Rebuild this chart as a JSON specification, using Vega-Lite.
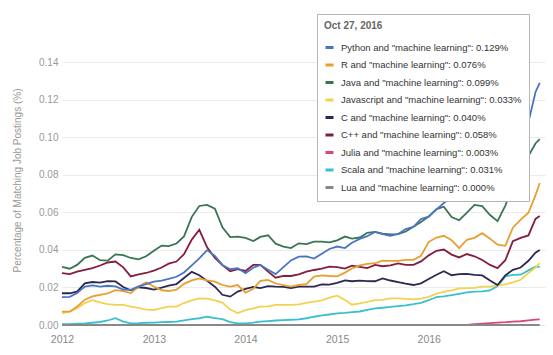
{
"$schema": "https://vega.github.io/schema/vega-lite/v6.json",
"width": 483, "height": 291,
"autosize": {"type": "none"},
"padding": {"left": 62, "top": 34, "right": 8, "bottom": 30},
"background": "white",
"config": {"view": {"stroke": null}, "font": "Liberation Sans"},
"data": {"values": [
{"d":"2012-01","s":"Julia","v":0},{"d":"2012-02","s":"Julia","v":0},{"d":"2012-03","s":"Julia","v":0},{"d":"2012-04","s":"Julia","v":0},{"d":"2012-05","s":"Julia","v":0},{"d":"2012-06","s":"Julia","v":0},{"d":"2012-07","s":"Julia","v":0},{"d":"2012-08","s":"Julia","v":0},{"d":"2012-09","s":"Julia","v":0},{"d":"2012-10","s":"Julia","v":0},{"d":"2012-11","s":"Julia","v":0},{"d":"2012-12","s":"Julia","v":0},
{"d":"2013-01","s":"Julia","v":0},{"d":"2013-02","s":"Julia","v":0},{"d":"2013-03","s":"Julia","v":0},{"d":"2013-04","s":"Julia","v":0},{"d":"2013-05","s":"Julia","v":0},{"d":"2013-06","s":"Julia","v":0},{"d":"2013-07","s":"Julia","v":0},{"d":"2013-08","s":"Julia","v":0},{"d":"2013-09","s":"Julia","v":0},{"d":"2013-10","s":"Julia","v":0},{"d":"2013-11","s":"Julia","v":0},{"d":"2013-12","s":"Julia","v":0},
{"d":"2014-01","s":"Julia","v":0},{"d":"2014-02","s":"Julia","v":0},{"d":"2014-03","s":"Julia","v":0},{"d":"2014-04","s":"Julia","v":0},{"d":"2014-05","s":"Julia","v":0},{"d":"2014-06","s":"Julia","v":0},{"d":"2014-07","s":"Julia","v":0},{"d":"2014-08","s":"Julia","v":0},{"d":"2014-09","s":"Julia","v":0},{"d":"2014-10","s":"Julia","v":0},{"d":"2014-11","s":"Julia","v":0},{"d":"2014-12","s":"Julia","v":0},
{"d":"2015-01","s":"Julia","v":0},{"d":"2015-02","s":"Julia","v":0},{"d":"2015-03","s":"Julia","v":0},{"d":"2015-04","s":"Julia","v":0},{"d":"2015-05","s":"Julia","v":0},{"d":"2015-06","s":"Julia","v":0},{"d":"2015-07","s":"Julia","v":0},{"d":"2015-08","s":"Julia","v":0},{"d":"2015-09","s":"Julia","v":0},{"d":"2015-10","s":"Julia","v":0},{"d":"2015-11","s":"Julia","v":0},{"d":"2015-12","s":"Julia","v":0},
{"d":"2016-01","s":"Julia","v":0},{"d":"2016-02","s":"Julia","v":0},{"d":"2016-03","s":"Julia","v":0},{"d":"2016-04","s":"Julia","v":0},{"d":"2016-05","s":"Julia","v":0},{"d":"2016-06","s":"Julia","v":0},{"d":"2016-07","s":"Julia","v":0.0004},{"d":"2016-08","s":"Julia","v":0.0007},{"d":"2016-09","s":"Julia","v":0.001},{"d":"2016-10","s":"Julia","v":0.0013},{"d":"2016-11","s":"Julia","v":0.0015},{"d":"2016-12","s":"Julia","v":0.0018},
{"d":"2017-01","s":"Julia","v":0.002},{"d":"2017-02","s":"Julia","v":0.0025},{"d":"2017-03","s":"Julia","v":0.0029},{"d":"2017-03-18","s":"Julia","v":0.003},

{"d":"2012-01","s":"Scala","v":0.0004},{"d":"2012-02","s":"Scala","v":0.0005},{"d":"2012-03","s":"Scala","v":0.0007},{"d":"2012-04","s":"Scala","v":0.0009},{"d":"2012-05","s":"Scala","v":0.0012},{"d":"2012-06","s":"Scala","v":0.0016},{"d":"2012-07","s":"Scala","v":0.0024},{"d":"2012-08","s":"Scala","v":0.0036},{"d":"2012-09","s":"Scala","v":0.0018},{"d":"2012-10","s":"Scala","v":0.0009},{"d":"2012-11","s":"Scala","v":0.001},{"d":"2012-12","s":"Scala","v":0.0012},
{"d":"2013-01","s":"Scala","v":0.0013},{"d":"2013-02","s":"Scala","v":0.0015},{"d":"2013-03","s":"Scala","v":0.0016},{"d":"2013-04","s":"Scala","v":0.0018},{"d":"2013-05","s":"Scala","v":0.0025},{"d":"2013-06","s":"Scala","v":0.0031},{"d":"2013-07","s":"Scala","v":0.0036},{"d":"2013-08","s":"Scala","v":0.0044},{"d":"2013-09","s":"Scala","v":0.0037},{"d":"2013-10","s":"Scala","v":0.0031},{"d":"2013-11","s":"Scala","v":0.0015},{"d":"2013-12","s":"Scala","v":0.0009},
{"d":"2014-01","s":"Scala","v":0.0009},{"d":"2014-02","s":"Scala","v":0.0013},{"d":"2014-03","s":"Scala","v":0.0018},{"d":"2014-04","s":"Scala","v":0.0021},{"d":"2014-05","s":"Scala","v":0.0024},{"d":"2014-06","s":"Scala","v":0.0026},{"d":"2014-07","s":"Scala","v":0.0028},{"d":"2014-08","s":"Scala","v":0.003},{"d":"2014-09","s":"Scala","v":0.0036},{"d":"2014-10","s":"Scala","v":0.0044},{"d":"2014-11","s":"Scala","v":0.0051},{"d":"2014-12","s":"Scala","v":0.0056},
{"d":"2015-01","s":"Scala","v":0.0062},{"d":"2015-02","s":"Scala","v":0.0065},{"d":"2015-03","s":"Scala","v":0.0069},{"d":"2015-04","s":"Scala","v":0.0072},{"d":"2015-05","s":"Scala","v":0.008},{"d":"2015-06","s":"Scala","v":0.0089},{"d":"2015-07","s":"Scala","v":0.0092},{"d":"2015-08","s":"Scala","v":0.0096},{"d":"2015-09","s":"Scala","v":0.0101},{"d":"2015-10","s":"Scala","v":0.0105},{"d":"2015-11","s":"Scala","v":0.0111},{"d":"2015-12","s":"Scala","v":0.0118},
{"d":"2016-01","s":"Scala","v":0.0132},{"d":"2016-02","s":"Scala","v":0.0149},{"d":"2016-03","s":"Scala","v":0.0153},{"d":"2016-04","s":"Scala","v":0.0159},{"d":"2016-05","s":"Scala","v":0.0166},{"d":"2016-06","s":"Scala","v":0.0174},{"d":"2016-07","s":"Scala","v":0.0178},{"d":"2016-08","s":"Scala","v":0.0179},{"d":"2016-09","s":"Scala","v":0.0184},{"d":"2016-10","s":"Scala","v":0.0208},{"d":"2016-11","s":"Scala","v":0.0259},{"d":"2016-12","s":"Scala","v":0.0267},
{"d":"2017-01","s":"Scala","v":0.0268},{"d":"2017-02","s":"Scala","v":0.0291},{"d":"2017-03","s":"Scala","v":0.0311},{"d":"2017-03-18","s":"Scala","v":0.031},

{"d":"2012-01","s":"Javascript","v":0.0062},{"d":"2012-02","s":"Javascript","v":0.0071},{"d":"2012-03","s":"Javascript","v":0.0089},{"d":"2012-04","s":"Javascript","v":0.0117},{"d":"2012-05","s":"Javascript","v":0.0132},{"d":"2012-06","s":"Javascript","v":0.012},{"d":"2012-07","s":"Javascript","v":0.0111},{"d":"2012-08","s":"Javascript","v":0.0107},{"d":"2012-09","s":"Javascript","v":0.0107},{"d":"2012-10","s":"Javascript","v":0.0098},{"d":"2012-11","s":"Javascript","v":0.0091},{"d":"2012-12","s":"Javascript","v":0.0082},
{"d":"2013-01","s":"Javascript","v":0.008},{"d":"2013-02","s":"Javascript","v":0.009},{"d":"2013-03","s":"Javascript","v":0.0098},{"d":"2013-04","s":"Javascript","v":0.0098},{"d":"2013-05","s":"Javascript","v":0.0117},{"d":"2013-06","s":"Javascript","v":0.0131},{"d":"2013-07","s":"Javascript","v":0.0142},{"d":"2013-08","s":"Javascript","v":0.0141},{"d":"2013-09","s":"Javascript","v":0.0131},{"d":"2013-10","s":"Javascript","v":0.0119},{"d":"2013-11","s":"Javascript","v":0.0082},{"d":"2013-12","s":"Javascript","v":0.0064},
{"d":"2014-01","s":"Javascript","v":0.0079},{"d":"2014-02","s":"Javascript","v":0.0088},{"d":"2014-03","s":"Javascript","v":0.0098},{"d":"2014-04","s":"Javascript","v":0.0099},{"d":"2014-05","s":"Javascript","v":0.0107},{"d":"2014-06","s":"Javascript","v":0.0107},{"d":"2014-07","s":"Javascript","v":0.0107},{"d":"2014-08","s":"Javascript","v":0.011},{"d":"2014-09","s":"Javascript","v":0.0118},{"d":"2014-10","s":"Javascript","v":0.0124},{"d":"2014-11","s":"Javascript","v":0.0131},{"d":"2014-12","s":"Javascript","v":0.0146},
{"d":"2015-01","s":"Javascript","v":0.0156},{"d":"2015-02","s":"Javascript","v":0.0133},{"d":"2015-03","s":"Javascript","v":0.0108},{"d":"2015-04","s":"Javascript","v":0.0115},{"d":"2015-05","s":"Javascript","v":0.0123},{"d":"2015-06","s":"Javascript","v":0.0132},{"d":"2015-07","s":"Javascript","v":0.0134},{"d":"2015-08","s":"Javascript","v":0.0142},{"d":"2015-09","s":"Javascript","v":0.0142},{"d":"2015-10","s":"Javascript","v":0.0139},{"d":"2015-11","s":"Javascript","v":0.0136},{"d":"2015-12","s":"Javascript","v":0.0141},
{"d":"2016-01","s":"Javascript","v":0.015},{"d":"2016-02","s":"Javascript","v":0.0167},{"d":"2016-03","s":"Javascript","v":0.0177},{"d":"2016-04","s":"Javascript","v":0.0185},{"d":"2016-05","s":"Javascript","v":0.0195},{"d":"2016-06","s":"Javascript","v":0.0196},{"d":"2016-07","s":"Javascript","v":0.0198},{"d":"2016-08","s":"Javascript","v":0.0204},{"d":"2016-09","s":"Javascript","v":0.0204},{"d":"2016-10","s":"Javascript","v":0.0211},{"d":"2016-11","s":"Javascript","v":0.0216},{"d":"2016-12","s":"Javascript","v":0.0227},
{"d":"2017-01","s":"Javascript","v":0.0241},{"d":"2017-02","s":"Javascript","v":0.0277},{"d":"2017-03","s":"Javascript","v":0.0306},{"d":"2017-03-18","s":"Javascript","v":0.033},

{"d":"2012-01","s":"C","v":0.0169},{"d":"2012-02","s":"C","v":0.0169},{"d":"2012-03","s":"C","v":0.0178},{"d":"2012-04","s":"C","v":0.0222},{"d":"2012-05","s":"C","v":0.0229},{"d":"2012-06","s":"C","v":0.0226},{"d":"2012-07","s":"C","v":0.0234},{"d":"2012-08","s":"C","v":0.0232},{"d":"2012-09","s":"C","v":0.0202},{"d":"2012-10","s":"C","v":0.0185},{"d":"2012-11","s":"C","v":0.0201},{"d":"2012-12","s":"C","v":0.0197},
{"d":"2013-01","s":"C","v":0.0189},{"d":"2013-02","s":"C","v":0.0199},{"d":"2013-03","s":"C","v":0.021},{"d":"2013-04","s":"C","v":0.0218},{"d":"2013-05","s":"C","v":0.025},{"d":"2013-06","s":"C","v":0.0283},{"d":"2013-07","s":"C","v":0.0265},{"d":"2013-08","s":"C","v":0.0235},{"d":"2013-09","s":"C","v":0.0204},{"d":"2013-10","s":"C","v":0.0161},{"d":"2013-11","s":"C","v":0.0151},{"d":"2013-12","s":"C","v":0.0178},
{"d":"2014-01","s":"C","v":0.0192},{"d":"2014-02","s":"C","v":0.0203},{"d":"2014-03","s":"C","v":0.0197},{"d":"2014-04","s":"C","v":0.0207},{"d":"2014-05","s":"C","v":0.0204},{"d":"2014-06","s":"C","v":0.0203},{"d":"2014-07","s":"C","v":0.0197},{"d":"2014-08","s":"C","v":0.0204},{"d":"2014-09","s":"C","v":0.0204},{"d":"2014-10","s":"C","v":0.0204},{"d":"2014-11","s":"C","v":0.0216},{"d":"2014-12","s":"C","v":0.0215},
{"d":"2015-01","s":"C","v":0.0225},{"d":"2015-02","s":"C","v":0.0238},{"d":"2015-03","s":"C","v":0.0233},{"d":"2015-04","s":"C","v":0.0236},{"d":"2015-05","s":"C","v":0.0234},{"d":"2015-06","s":"C","v":0.0233},{"d":"2015-07","s":"C","v":0.0248},{"d":"2015-08","s":"C","v":0.0237},{"d":"2015-09","s":"C","v":0.0229},{"d":"2015-10","s":"C","v":0.022},{"d":"2015-11","s":"C","v":0.0213},{"d":"2015-12","s":"C","v":0.0222},
{"d":"2016-01","s":"C","v":0.0245},{"d":"2016-02","s":"C","v":0.0268},{"d":"2016-03","s":"C","v":0.0286},{"d":"2016-04","s":"C","v":0.0265},{"d":"2016-05","s":"C","v":0.0271},{"d":"2016-06","s":"C","v":0.0272},{"d":"2016-07","s":"C","v":0.0267},{"d":"2016-08","s":"C","v":0.0264},{"d":"2016-09","s":"C","v":0.0237},{"d":"2016-10","s":"C","v":0.0213},{"d":"2016-11","s":"C","v":0.0264},{"d":"2016-12","s":"C","v":0.0294},
{"d":"2017-01","s":"C","v":0.0306},{"d":"2017-02","s":"C","v":0.0342},{"d":"2017-03","s":"C","v":0.0385},{"d":"2017-03-18","s":"C","v":0.040},

{"d":"2012-01","s":"C++","v":0.0276},{"d":"2012-02","s":"C++","v":0.0271},{"d":"2012-03","s":"C++","v":0.0284},{"d":"2012-04","s":"C++","v":0.0294},{"d":"2012-05","s":"C++","v":0.0303},{"d":"2012-06","s":"C++","v":0.0317},{"d":"2012-07","s":"C++","v":0.0333},{"d":"2012-08","s":"C++","v":0.0338},{"d":"2012-09","s":"C++","v":0.0307},{"d":"2012-10","s":"C++","v":0.0259},{"d":"2012-11","s":"C++","v":0.027},{"d":"2012-12","s":"C++","v":0.0277},
{"d":"2013-01","s":"C++","v":0.029},{"d":"2013-02","s":"C++","v":0.0306},{"d":"2013-03","s":"C++","v":0.0327},{"d":"2013-04","s":"C++","v":0.0338},{"d":"2013-05","s":"C++","v":0.0377},{"d":"2013-06","s":"C++","v":0.0455},{"d":"2013-07","s":"C++","v":0.0507},{"d":"2013-08","s":"C++","v":0.0414},{"d":"2013-09","s":"C++","v":0.0358},{"d":"2013-10","s":"C++","v":0.0319},{"d":"2013-11","s":"C++","v":0.0286},{"d":"2013-12","s":"C++","v":0.0297},
{"d":"2014-01","s":"C++","v":0.0288},{"d":"2014-02","s":"C++","v":0.032},{"d":"2014-03","s":"C++","v":0.032},{"d":"2014-04","s":"C++","v":0.0284},{"d":"2014-05","s":"C++","v":0.0252},{"d":"2014-06","s":"C++","v":0.0262},{"d":"2014-07","s":"C++","v":0.0261},{"d":"2014-08","s":"C++","v":0.027},{"d":"2014-09","s":"C++","v":0.0284},{"d":"2014-10","s":"C++","v":0.0293},{"d":"2014-11","s":"C++","v":0.030},{"d":"2014-12","s":"C++","v":0.0311},
{"d":"2015-01","s":"C++","v":0.0308},{"d":"2015-02","s":"C++","v":0.030},{"d":"2015-03","s":"C++","v":0.0316},{"d":"2015-04","s":"C++","v":0.031},{"d":"2015-05","s":"C++","v":0.0303},{"d":"2015-06","s":"C++","v":0.032},{"d":"2015-07","s":"C++","v":0.0313},{"d":"2015-08","s":"C++","v":0.0318},{"d":"2015-09","s":"C++","v":0.0328},{"d":"2015-10","s":"C++","v":0.032},{"d":"2015-11","s":"C++","v":0.032},{"d":"2015-12","s":"C++","v":0.0339},
{"d":"2016-01","s":"C++","v":0.0371},{"d":"2016-02","s":"C++","v":0.0395},{"d":"2016-03","s":"C++","v":0.0402},{"d":"2016-04","s":"C++","v":0.0375},{"d":"2016-05","s":"C++","v":0.036},{"d":"2016-06","s":"C++","v":0.0378},{"d":"2016-07","s":"C++","v":0.0366},{"d":"2016-08","s":"C++","v":0.0346},{"d":"2016-09","s":"C++","v":0.032},{"d":"2016-10","s":"C++","v":0.0303},{"d":"2016-11","s":"C++","v":0.0345},{"d":"2016-12","s":"C++","v":0.0447},
{"d":"2017-01","s":"C++","v":0.0464},{"d":"2017-02","s":"C++","v":0.0477},{"d":"2017-03","s":"C++","v":0.0565},{"d":"2017-03-18","s":"C++","v":0.058},

{"d":"2012-01","s":"R","v":0.0071},{"d":"2012-02","s":"R","v":0.0071},{"d":"2012-03","s":"R","v":0.0098},{"d":"2012-04","s":"R","v":0.0135},{"d":"2012-05","s":"R","v":0.0152},{"d":"2012-06","s":"R","v":0.016},{"d":"2012-07","s":"R","v":0.0168},{"d":"2012-08","s":"R","v":0.0186},{"d":"2012-09","s":"R","v":0.0181},{"d":"2012-10","s":"R","v":0.017},{"d":"2012-11","s":"R","v":0.0204},{"d":"2012-12","s":"R","v":0.0227},
{"d":"2013-01","s":"R","v":0.0205},{"d":"2013-02","s":"R","v":0.0185},{"d":"2013-03","s":"R","v":0.0181},{"d":"2013-04","s":"R","v":0.0188},{"d":"2013-05","s":"R","v":0.0219},{"d":"2013-06","s":"R","v":0.0238},{"d":"2013-07","s":"R","v":0.0248},{"d":"2013-08","s":"R","v":0.0238},{"d":"2013-09","s":"R","v":0.0231},{"d":"2013-10","s":"R","v":0.0213},{"d":"2013-11","s":"R","v":0.0205},{"d":"2013-12","s":"R","v":0.0213},
{"d":"2014-01","s":"R","v":0.0172},{"d":"2014-02","s":"R","v":0.0193},{"d":"2014-03","s":"R","v":0.0235},{"d":"2014-04","s":"R","v":0.024},{"d":"2014-05","s":"R","v":0.0221},{"d":"2014-06","s":"R","v":0.0212},{"d":"2014-07","s":"R","v":0.0204},{"d":"2014-08","s":"R","v":0.0213},{"d":"2014-09","s":"R","v":0.0218},{"d":"2014-10","s":"R","v":0.0258},{"d":"2014-11","s":"R","v":0.0264},{"d":"2014-12","s":"R","v":0.0261},
{"d":"2015-01","s":"R","v":0.0259},{"d":"2015-02","s":"R","v":0.0279},{"d":"2015-03","s":"R","v":0.0301},{"d":"2015-04","s":"R","v":0.0318},{"d":"2015-05","s":"R","v":0.0326},{"d":"2015-06","s":"R","v":0.0329},{"d":"2015-07","s":"R","v":0.0343},{"d":"2015-08","s":"R","v":0.0342},{"d":"2015-09","s":"R","v":0.0342},{"d":"2015-10","s":"R","v":0.0347},{"d":"2015-11","s":"R","v":0.0347},{"d":"2015-12","s":"R","v":0.0369},
{"d":"2016-01","s":"R","v":0.0443},{"d":"2016-02","s":"R","v":0.0466},{"d":"2016-03","s":"R","v":0.0475},{"d":"2016-04","s":"R","v":0.0452},{"d":"2016-05","s":"R","v":0.0409},{"d":"2016-06","s":"R","v":0.0454},{"d":"2016-07","s":"R","v":0.0464},{"d":"2016-08","s":"R","v":0.0489},{"d":"2016-09","s":"R","v":0.046},{"d":"2016-10","s":"R","v":0.0428},{"d":"2016-11","s":"R","v":0.0422},{"d":"2016-12","s":"R","v":0.0518},
{"d":"2017-01","s":"R","v":0.0561},{"d":"2017-02","s":"R","v":0.0598},{"d":"2017-03","s":"R","v":0.069},{"d":"2017-03-18","s":"R","v":0.0756},

{"d":"2012-01","s":"Java","v":0.031},{"d":"2012-02","s":"Java","v":0.030},{"d":"2012-03","s":"Java","v":0.032},{"d":"2012-04","s":"Java","v":0.0358},{"d":"2012-05","s":"Java","v":0.037},{"d":"2012-06","s":"Java","v":0.0345},{"d":"2012-07","s":"Java","v":0.0343},{"d":"2012-08","s":"Java","v":0.0376},{"d":"2012-09","s":"Java","v":0.0372},{"d":"2012-10","s":"Java","v":0.0357},{"d":"2012-11","s":"Java","v":0.035},{"d":"2012-12","s":"Java","v":0.0366},
{"d":"2013-01","s":"Java","v":0.0395},{"d":"2013-02","s":"Java","v":0.0423},{"d":"2013-03","s":"Java","v":0.042},{"d":"2013-04","s":"Java","v":0.0434},{"d":"2013-05","s":"Java","v":0.0472},{"d":"2013-06","s":"Java","v":0.0576},{"d":"2013-07","s":"Java","v":0.0634},{"d":"2013-08","s":"Java","v":0.064},{"d":"2013-09","s":"Java","v":0.062},{"d":"2013-10","s":"Java","v":0.052},{"d":"2013-11","s":"Java","v":0.0468},{"d":"2013-12","s":"Java","v":0.0471},
{"d":"2014-01","s":"Java","v":0.0464},{"d":"2014-02","s":"Java","v":0.0447},{"d":"2014-03","s":"Java","v":0.0469},{"d":"2014-04","s":"Java","v":0.0478},{"d":"2014-05","s":"Java","v":0.0433},{"d":"2014-06","s":"Java","v":0.0418},{"d":"2014-07","s":"Java","v":0.041},{"d":"2014-08","s":"Java","v":0.0435},{"d":"2014-09","s":"Java","v":0.0431},{"d":"2014-10","s":"Java","v":0.0444},{"d":"2014-11","s":"Java","v":0.0444},{"d":"2014-12","s":"Java","v":0.044},
{"d":"2015-01","s":"Java","v":0.0451},{"d":"2015-02","s":"Java","v":0.0471},{"d":"2015-03","s":"Java","v":0.046},{"d":"2015-04","s":"Java","v":0.0466},{"d":"2015-05","s":"Java","v":0.0491},{"d":"2015-06","s":"Java","v":0.0496},{"d":"2015-07","s":"Java","v":0.0487},{"d":"2015-08","s":"Java","v":0.0483},{"d":"2015-09","s":"Java","v":0.0484},{"d":"2015-10","s":"Java","v":0.0498},{"d":"2015-11","s":"Java","v":0.0523},{"d":"2015-12","s":"Java","v":0.0548},
{"d":"2016-01","s":"Java","v":0.0579},{"d":"2016-02","s":"Java","v":0.0617},{"d":"2016-03","s":"Java","v":0.063},{"d":"2016-04","s":"Java","v":0.0575},{"d":"2016-05","s":"Java","v":0.0558},{"d":"2016-06","s":"Java","v":0.0598},{"d":"2016-07","s":"Java","v":0.064},{"d":"2016-08","s":"Java","v":0.0633},{"d":"2016-09","s":"Java","v":0.0586},{"d":"2016-10","s":"Java","v":0.0553},{"d":"2016-11","s":"Java","v":0.0636},{"d":"2016-12","s":"Java","v":0.0738},
{"d":"2017-01","s":"Java","v":0.0822},{"d":"2017-02","s":"Java","v":0.090},{"d":"2017-03","s":"Java","v":0.0967},{"d":"2017-03-18","s":"Java","v":0.099},

{"d":"2012-01","s":"Python","v":0.0148},{"d":"2012-02","s":"Python","v":0.015},{"d":"2012-03","s":"Python","v":0.017},{"d":"2012-04","s":"Python","v":0.0205},{"d":"2012-05","s":"Python","v":0.0211},{"d":"2012-06","s":"Python","v":0.0204},{"d":"2012-07","s":"Python","v":0.0209},{"d":"2012-08","s":"Python","v":0.0206},{"d":"2012-09","s":"Python","v":0.0189},{"d":"2012-10","s":"Python","v":0.0187},{"d":"2012-11","s":"Python","v":0.0206},{"d":"2012-12","s":"Python","v":0.0218},
{"d":"2013-01","s":"Python","v":0.0231},{"d":"2013-02","s":"Python","v":0.0236},{"d":"2013-03","s":"Python","v":0.0246},{"d":"2013-04","s":"Python","v":0.0257},{"d":"2013-05","s":"Python","v":0.028},{"d":"2013-06","s":"Python","v":0.0318},{"d":"2013-07","s":"Python","v":0.0355},{"d":"2013-08","s":"Python","v":0.0399},{"d":"2013-09","s":"Python","v":0.0368},{"d":"2013-10","s":"Python","v":0.032},{"d":"2013-11","s":"Python","v":0.0297},{"d":"2013-12","s":"Python","v":0.0302},
{"d":"2014-01","s":"Python","v":0.0276},{"d":"2014-02","s":"Python","v":0.0305},{"d":"2014-03","s":"Python","v":0.032},{"d":"2014-04","s":"Python","v":0.0294},{"d":"2014-05","s":"Python","v":0.0271},{"d":"2014-06","s":"Python","v":0.0308},{"d":"2014-07","s":"Python","v":0.0344},{"d":"2014-08","s":"Python","v":0.0364},{"d":"2014-09","s":"Python","v":0.0365},{"d":"2014-10","s":"Python","v":0.0354},{"d":"2014-11","s":"Python","v":0.038},{"d":"2014-12","s":"Python","v":0.0405},
{"d":"2015-01","s":"Python","v":0.0418},{"d":"2015-02","s":"Python","v":0.041},{"d":"2015-03","s":"Python","v":0.0438},{"d":"2015-04","s":"Python","v":0.0459},{"d":"2015-05","s":"Python","v":0.0473},{"d":"2015-06","s":"Python","v":0.0496},{"d":"2015-07","s":"Python","v":0.0484},{"d":"2015-08","s":"Python","v":0.0475},{"d":"2015-09","s":"Python","v":0.0485},{"d":"2015-10","s":"Python","v":0.0511},{"d":"2015-11","s":"Python","v":0.0523},{"d":"2015-12","s":"Python","v":0.0564},
{"d":"2016-01","s":"Python","v":0.0577},{"d":"2016-02","s":"Python","v":0.0616},{"d":"2016-03","s":"Python","v":0.065},{"d":"2016-04","s":"Python","v":0.068},{"d":"2016-05","s":"Python","v":0.071},{"d":"2016-06","s":"Python","v":0.075},{"d":"2016-07","s":"Python","v":0.077},{"d":"2016-08","s":"Python","v":0.0768},{"d":"2016-09","s":"Python","v":0.0735},{"d":"2016-10","s":"Python","v":0.071},{"d":"2016-11","s":"Python","v":0.0805},{"d":"2016-12","s":"Python","v":0.091},
{"d":"2017-01","s":"Python","v":0.0985},{"d":"2017-02","s":"Python","v":0.108},{"d":"2017-03","s":"Python","v":0.124},{"d":"2017-03-18","s":"Python","v":0.129},

{"d":"2012-01","s":"Lua","v":0},{"d":"2012-04","s":"Lua","v":0},{"d":"2012-07","s":"Lua","v":0},{"d":"2012-10","s":"Lua","v":0},
{"d":"2013-01","s":"Lua","v":0},{"d":"2013-04","s":"Lua","v":0},{"d":"2013-07","s":"Lua","v":0},{"d":"2013-10","s":"Lua","v":0},
{"d":"2014-01","s":"Lua","v":0},{"d":"2014-04","s":"Lua","v":0},{"d":"2014-07","s":"Lua","v":0},{"d":"2014-10","s":"Lua","v":0},
{"d":"2015-01","s":"Lua","v":0},{"d":"2015-04","s":"Lua","v":0},{"d":"2015-07","s":"Lua","v":0},{"d":"2015-10","s":"Lua","v":0},
{"d":"2016-01","s":"Lua","v":0},{"d":"2016-04","s":"Lua","v":0},{"d":"2016-07","s":"Lua","v":0},{"d":"2016-10","s":"Lua","v":0},
{"d":"2017-01","s":"Lua","v":0},{"d":"2017-03-18","s":"Lua","v":0}
]},
"mark": {"type": "line", "strokeWidth": 1.8},
"encoding": {
  "x": {"field": "d", "type": "temporal",
    "scale": {"domain": [{"year": 2012, "month": 1, "date": 1}, {"year": 2017, "month": 4, "date": 8}]},
    "axis": {"title": null, "values": [{"year": 2012, "month": 1, "date": 1}, {"year": 2013, "month": 1, "date": 1}, {"year": 2014, "month": 1, "date": 1}, {"year": 2015, "month": 1, "date": 1}, {"year": 2016, "month": 1, "date": 1}],
      "format": "%Y", "grid": false, "domain": false, "ticks": false, "labelFlush": false, "labelColor": "#888", "labelFontSize": 10.5, "labelPadding": 9}},
  "y": {"field": "v", "type": "quantitative",
    "scale": {"domain": [0, 0.155], "nice": false},
    "axis": {"title": "Percentage of Matching Job Postings (%)", "values": [0, 0.02, 0.04, 0.06, 0.08, 0.1, 0.12, 0.14], "format": ".2f",
      "grid": true, "gridColor": "#ebebeb", "domain": false, "ticks": false, "labelColor": "#999", "labelFontSize": 10, "labelPadding": 4,
      "titleColor": "#999", "titleFontSize": 10, "titleFontWeight": "normal", "titleX": -40, "titleY": 146}},
  "color": {"field": "s", "type": "nominal",
    "scale": {"domain": ["Python", "R", "Java", "Javascript", "C", "C++", "Julia", "Scala", "Lua"],
      "range": ["#4a74c4", "#e89f2f", "#3a7553", "#f2d24e", "#2c2852", "#851d3d", "#d9467c", "#38bfd0", "#888888"]},
    "legend": {"orient": "none", "legendX": 255, "legendY": -20, "zindex": 1,
      "title": "Oct 27, 2016", "titleFontSize": 10, "titleFontWeight": "bold", "titleColor": "#666", "titlePadding": 11,
      "fillColor": "white", "strokeColor": "#b5b5b5", "padding": 7,
      "labelFontSize": 9.5, "labelColor": "#333", "labelOffset": 6, "labelLimit": 400,
      "symbolType": "stroke", "symbolStrokeWidth": 3, "symbolSize": 64, "rowPadding": 4.5,
      "labelExpr": "datum.label + ' and \"machine learning\": ' + (datum.label == 'Python' ? '0.129%' : datum.label == 'R' ? '0.076%' : datum.label == 'Java' ? '0.099%' : datum.label == 'Javascript' ? '0.033%' : datum.label == 'C' ? '0.040%' : datum.label == 'C++' ? '0.058%' : datum.label == 'Julia' ? '0.003%' : datum.label == 'Scala' ? '0.031%' : '0.000%')"}}
}
}
